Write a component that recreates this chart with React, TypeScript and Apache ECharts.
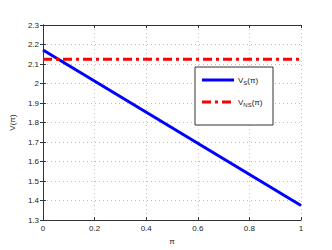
import React, { useEffect, useRef } from "react";
import * as echarts from "echarts";

const xValues = [0, 1];
const vsValues = [2.172, 1.375];
const vnsValues = [2.125, 2.125];
const seriesNames = ["VS", "VNS"];
const seriesColors = ["#0000ff", "#ff0000"];

export default function App() {
  const ref = useRef<HTMLDivElement>(null);
  useEffect(() => {
    const chart = echarts.init(ref.current!, null, { renderer: "svg" });
    const font = "Liberation Sans, Arial, sans-serif";
    const axisCommon = {
      axisLine: { show: true, onZero: false, lineStyle: { color: "#333", width: 1 } },
      axisTick: { show: true, inside: true, length: 3, lineStyle: { color: "#333" } },
      splitLine: { show: true, lineStyle: { color: "#bbb", type: [1, 3], width: 1 } },
      axisLabel: { color: "#222", fontSize: 8, fontFamily: font, margin: 4 },
    };
    const rich = {
      n: { fontSize: 8, fontFamily: font, fill: "#222", verticalAlign: "bottom", padding: [0, 0, 2, 0] },
      sub: { fontSize: 6, fontFamily: font, fill: "#222", verticalAlign: "bottom", padding: [0, 0, 0, 0] },
    };
    const legendElems: any[] = [];
    seriesNames.forEach((name, i) => {
      const y = 80 + i * 22;
      legendElems.push({
        type: "line",
        z: 101,
        shape: { x1: 202, y1: y, x2: 234, y2: y },
        style: i === 1
          ? { stroke: seriesColors[i], lineWidth: 3, lineDash: [9, 4, 3, 4] }
          : { stroke: seriesColors[i], lineWidth: 3 },
      });
      legendElems.push({
        type: "text",
        z: 101,
        x: 238,
        y: y + 1,
        style: {
          text: `{n|V}{sub|${name.slice(1)}}{n|(π)}`,
          rich,
          verticalAlign: "middle",
          fontSize: 8,
          fontFamily: font,
          fill: "#222",
        },
      });
    });
    chart.setOption({
      animation: false,
      backgroundColor: "#fff",
      grid: { left: 43, right: 31, top: 25, bottom: 29, show: false },
      xAxis: [
        {
          type: "value",
          min: 0,
          max: 1,
          interval: 0.2,
          ...axisCommon,
          axisLabel: { ...axisCommon.axisLabel, formatter: (v: number) => String(+v.toFixed(1)) },
          name: "π",
          nameLocation: "middle",
          nameGap: 8,
          nameTextStyle: { color: "#222", fontSize: 8, fontFamily: font },
        },
        {
          type: "value",
          position: "top",
          min: 0,
          max: 1,
          interval: 0.2,
          axisLine: { show: true, lineStyle: { color: "#333" } },
          axisTick: { show: true, inside: true, length: 3, lineStyle: { color: "#333" } },
          axisLabel: { show: false },
          splitLine: { show: false },
        },
      ],
      yAxis: [
        {
          type: "value",
          min: 1.3,
          max: 2.3,
          interval: 0.1,
          ...axisCommon,
          axisLabel: { ...axisCommon.axisLabel, formatter: (v: number) => String(+v.toFixed(1)) },
          name: "V(π)",
          nameLocation: "middle",
          nameGap: 20,
          nameRotate: 90,
          nameTextStyle: { color: "#222", fontSize: 8, fontFamily: font },
        },
        {
          type: "value",
          position: "right",
          min: 1.3,
          max: 2.3,
          interval: 0.1,
          axisLine: { show: true, lineStyle: { color: "#333" } },
          axisTick: { show: true, inside: true, length: 3, lineStyle: { color: "#333" } },
          axisLabel: { show: false },
          splitLine: { show: false },
        },
      ],
      graphic: [
        {
          type: "rect",
          z: 100,
          shape: { x: 195, y: 67, width: 78, height: 58 },
          style: { fill: "#fff", stroke: "#333", lineWidth: 1 },
        },
        ...legendElems,
      ],
      series: [
        {
          name: seriesNames[0],
          type: "line",
          data: xValues.map((x, i) => [x, vsValues[i]]),
          showSymbol: false,
          symbol: "none",
          lineStyle: { color: seriesColors[0], width: 3 },
          itemStyle: { color: seriesColors[0] },
        },
        {
          name: seriesNames[1],
          type: "line",
          data: xValues.map((x, i) => [x, vnsValues[i]]),
          showSymbol: false,
          symbol: "none",
          lineStyle: { color: seriesColors[1], width: 3, type: [9, 4, 3, 4] },
          itemStyle: { color: seriesColors[1] },
        },
      ],
    });
    return () => chart.dispose();
  }, []);
  return <div ref={ref} style={{ width: 332, height: 250, marginLeft: -8, marginTop: -8 }} />;
}
